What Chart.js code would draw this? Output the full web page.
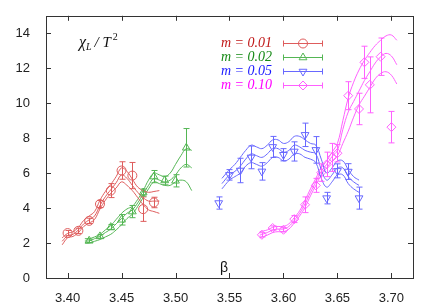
<!DOCTYPE html>
<html>
<head>
<meta charset="utf-8">
<script src="https://cdn.jsdelivr.net/npm/chart.js@4.4.0/dist/chart.umd.min.js"></script>
<style>
  html, body { margin: 0; padding: 0; background: #fff; }
</style>
</head>
<body>
<canvas id="chiChart" width="436" height="305"></canvas>
<script>
// Axes
const xTicks = [3.40, 3.45, 3.50, 3.55, 3.60, 3.65, 3.70];
const yTicks = [0, 2, 4, 6, 8, 10, 12, 14];
const labels = ['m = 0.01', 'm = 0.02', 'm = 0.05', 'm = 0.10'];

// Points m=0.01
const beta01 = [3.40, 3.41, 3.42, 3.43, 3.44, 3.45, 3.46, 3.47, 3.48];
const chi01 = [2.57, 2.70, 3.27, 4.23, 5.00, 6.15, 5.86, 3.94, 4.32];
const err01 = [0.15, 0.15, 0.15, 0.2, 0.4, 0.5, 0.75, 0.7, 0.3];

// Points m=0.02
const beta02 = [3.42, 3.43, 3.44, 3.45, 3.46, 3.47, 3.48, 3.49, 3.50, 3.51];
const chi02 = [2.13, 2.38, 2.91, 3.33, 3.80, 4.89, 5.80, 5.58, 5.56, 7.45];
const err02 = [0.1, 0.1, 0.15, 0.3, 0.35, 0.2, 0.35, 0.25, 0.35, 1.1];

// Points m=0.05
const beta05 = [3.54, 3.55, 3.56, 3.57, 3.58, 3.59, 3.60, 3.61, 3.62, 3.63, 3.64, 3.65, 3.66, 3.67];
const chi05 = [4.29, 5.90, 6.15, 6.90, 6.10, 7.50, 7.05, 7.24, 8.19, 7.33, 4.57, 6.13, 6.09, 4.57];
const err05 = [0.35, 0.3, 0.7, 0.65, 0.5, 0.6, 0.35, 0.55, 0.67, 0.76, 0.33, 0.4, 0.45, 0.63];

// Points m=0.10
const beta10 = [3.58, 3.59, 3.60, 3.61, 3.62, 3.63, 3.635, 3.64, 3.645, 3.65, 3.66, 3.67, 3.675, 3.68, 3.69, 3.70];
const chi10 = [2.47, 2.86, 2.76, 3.37, 4.19, 5.30, 6.03, 6.50, 6.90, 7.14, 10.43, 9.67, 12.34, 11.05, 12.66, 8.63];
const err10 = [0.12, 0.12, 0.12, 0.2, 0.45, 0.4, 0.5, 0.7, 0.8, 0.5, 0.8, 0.9, 0.92, 1.6, 1.07, 0.9];

// Courbes (haut / centre / bas) m=0.01
const curveBeta01 = [3.395, 3.40, 3.405, 3.41, 3.415, 3.42, 3.425, 3.43, 3.435, 3.44, 3.445, 3.45, 3.455, 3.46, 3.465, 3.47, 3.475, 3.48, 3.485];
const curveHi01 = [2.3, 2.55, 2.65, 2.9, 3.3, 3.55, 3.8, 4.45, 4.95, 5.35, 5.8, 6.3, 6.1, 5.65, 5.2, 5.0, 4.9, 4.95, 5.0];
const curveMid01 = [2.1, 2.42, 2.5, 2.75, 3.1, 3.33, 3.55, 4.15, 4.65, 5.05, 5.45, 5.9, 5.7, 5.3, 4.9, 4.6, 4.4, 4.4, 4.4];
const curveLo01 = [1.9, 2.3, 2.38, 2.6, 2.95, 3.14, 3.35, 3.95, 4.45, 4.85, 5.15, 5.5, 5.3, 5.0, 4.6, 4.2, 3.9, 3.8, 3.7];

// Courbes m=0.02
const curveBeta02 = [3.416, 3.42, 3.425, 3.43, 3.435, 3.44, 3.445, 3.45, 3.455, 3.46, 3.465, 3.47, 3.475, 3.48, 3.485, 3.49, 3.495, 3.50, 3.505, 3.51, 3.515];
const curveHi02 = [2.25, 2.25, 2.35, 2.5, 2.75, 3.0, 3.35, 3.7, 3.95, 4.1, 4.5, 5.0, 5.6, 6.0, 5.9, 5.8, 6.0, 6.5, 7.0, 7.4, 7.3];
const curveMid02 = [2.12, 2.12, 2.25, 2.4, 2.6, 2.8, 3.1, 3.4, 3.7, 3.9, 4.3, 4.8, 5.3, 5.7, 5.6, 5.5, 5.6, 5.9, 6.3, 6.5, 6.3];
const curveLo02 = [2.0, 2.0, 2.1, 2.2, 2.35, 2.5, 2.75, 3.05, 3.4, 3.65, 4.1, 4.6, 5.1, 5.5, 5.4, 5.3, 5.3, 5.5, 5.6, 5.5, 5.0];

// Courbes m=0.05
const curveBeta05 = [3.543, 3.55, 3.555, 3.56, 3.565, 3.57, 3.575, 3.58, 3.585, 3.59, 3.595, 3.60, 3.605, 3.61, 3.615, 3.62, 3.625, 3.63, 3.635, 3.64, 3.645, 3.65, 3.655, 3.66, 3.665, 3.67];
const curveHi05 = [5.7, 6.2, 6.5, 6.9, 7.3, 7.6, 7.5, 7.4, 7.6, 7.9, 7.9, 7.7, 7.8, 8.1, 8.1, 7.9, 7.7, 7.6, 6.8, 6.0, 6.3, 6.7, 6.7, 6.2, 5.8, 5.6];
const curveMid05 = [5.4, 5.9, 6.1, 6.4, 6.8, 7.1, 7.0, 6.9, 7.1, 7.4, 7.4, 7.2, 7.3, 7.6, 7.5, 7.3, 7.2, 7.1, 6.2, 5.6, 5.9, 6.3, 6.3, 5.8, 5.5, 5.3];
const curveLo05 = [5.1, 5.6, 5.8, 6.0, 6.4, 6.6, 6.5, 6.4, 6.6, 6.9, 6.9, 6.7, 6.8, 7.1, 7.1, 6.9, 6.8, 6.6, 5.7, 5.2, 5.5, 5.9, 5.9, 5.4, 5.1, 4.9];

// Courbes m=0.10
const curveBeta10 = [3.578, 3.585, 3.59, 3.595, 3.60, 3.605, 3.61, 3.615, 3.62, 3.625, 3.63, 3.635, 3.64, 3.645, 3.65, 3.655, 3.66, 3.665, 3.67, 3.675, 3.68, 3.685, 3.69, 3.695, 3.70, 3.705];
const curveHi10 = [2.65, 2.75, 2.9, 2.95, 2.95, 3.1, 3.45, 3.85, 4.45, 5.1, 5.7, 6.3, 6.7, 7.2, 7.7, 9.0, 10.3, 11.2, 11.9, 12.45, 12.9, 13.3, 13.6, 13.85, 13.9, 13.6];
const curveMid10 = [2.45, 2.6, 2.75, 2.8, 2.8, 2.95, 3.3, 3.7, 4.25, 4.9, 5.5, 6.1, 6.5, 6.95, 7.3, 8.5, 9.5, 10.1, 10.7, 11.3, 11.8, 12.3, 12.65, 12.85, 12.7, 12.2];
const curveLo10 = [2.3, 2.45, 2.6, 2.65, 2.65, 2.8, 3.15, 3.55, 4.05, 4.7, 5.3, 5.9, 6.3, 6.7, 7.0, 7.7, 8.4, 9.2, 9.9, 10.4, 10.9, 11.4, 11.7, 11.8, 11.6, 11.1];

const lineColors = ['rgb(222,92,92)', 'rgb(84,182,84)', 'rgb(104,104,255)', 'rgb(255,96,255)'];
const textColors = ['#c01818', '#168a16', '#1a1aff', '#ff00ff'];
const markers = [
    {style: 'circle', rot: 0, r: 4.5},
    {style: 'triangle', rot: 0, r: 4.5},
    {style: 'triangle', rot: 180, r: 4.5},
    {style: 'rectRot', rot: 0, r: 4.5}
];

const makeXY = (xs, ys) => xs.map((x, i) => ({x: x, y: ys[i]}));

const curveSet = (xs, ys, color) => ({
    data: makeXY(xs, ys),
    borderColor: color,
    borderWidth: 1,
    pointRadius: 0,
    tension: 0.4,
    fill: false
});

const pointSet = (xs, ys, errs, i) => ({
    data: makeXY(xs, ys),
    errors: errs,
    showLine: false,
    borderColor: lineColors[i],
    backgroundColor: 'rgba(0,0,0,0)',
    pointStyle: markers[i].style,
    pointRotation: markers[i].rot,
    pointRadius: markers[i].r,
    pointBorderWidth: 1
});

const datasets = [
    curveSet(curveBeta01, curveHi01, lineColors[0]),
    curveSet(curveBeta01, curveMid01, lineColors[0]),
    curveSet(curveBeta01, curveLo01, lineColors[0]),
    curveSet(curveBeta02, curveHi02, lineColors[1]),
    curveSet(curveBeta02, curveMid02, lineColors[1]),
    curveSet(curveBeta02, curveLo02, lineColors[1]),
    curveSet(curveBeta05, curveHi05, lineColors[2]),
    curveSet(curveBeta05, curveMid05, lineColors[2]),
    curveSet(curveBeta05, curveLo05, lineColors[2]),
    curveSet(curveBeta10, curveHi10, lineColors[3]),
    curveSet(curveBeta10, curveMid10, lineColors[3]),
    curveSet(curveBeta10, curveLo10, lineColors[3]),
    pointSet(beta01, chi01, err01, 0),
    pointSet(beta02, chi02, err02, 1),
    pointSet(beta05, chi05, err05, 2),
    pointSet(beta10, chi10, err10, 3)
];

// Barres d'erreur
const errorBars = {
    id: 'errorBars',
    afterDatasetsDraw(chart) {
        const ctx = chart.ctx;
        const xs = chart.scales.x, ys = chart.scales.y;
        ctx.save();
        ctx.lineWidth = 1;
        chart.data.datasets.forEach(ds => {
            if (!ds.errors) return;
            ctx.strokeStyle = ds.borderColor;
            ds.data.forEach((p, i) => {
                const px = Math.round(xs.getPixelForValue(p.x)) + 0.5;
                const top = ys.getPixelForValue(p.y + ds.errors[i]);
                const bot = ys.getPixelForValue(p.y - ds.errors[i]);
                ctx.beginPath();
                ctx.moveTo(px, top); ctx.lineTo(px, bot);
                ctx.moveTo(px - 3, top); ctx.lineTo(px + 3, top);
                ctx.moveTo(px - 3, bot); ctx.lineTo(px + 3, bot);
                ctx.stroke();
            });
        });
        ctx.restore();
    }
};

// Cadre, ticks internes, titres et légende
const frame = {
    id: 'frame',
    afterDraw(chart) {
        const ctx = chart.ctx;
        const a = chart.chartArea;
        const xs = chart.scales.x, ys = chart.scales.y;
        ctx.save();
        ctx.strokeStyle = '#333';
        ctx.lineWidth = 1;
        ctx.strokeRect(Math.round(a.left) + 0.5, Math.round(a.top) + 0.5, Math.round(a.right - a.left), Math.round(a.bottom - a.top));
        ctx.beginPath();
        xTicks.forEach(v => {
            const px = Math.round(xs.getPixelForValue(v)) + 0.5;
            ctx.moveTo(px, a.bottom); ctx.lineTo(px, a.bottom - 5);
            ctx.moveTo(px, a.top); ctx.lineTo(px, a.top + 5);
        });
        yTicks.forEach(v => {
            const py = Math.round(ys.getPixelForValue(v)) + 0.5;
            ctx.moveTo(a.left, py); ctx.lineTo(a.left + 5, py);
            ctx.moveTo(a.right, py); ctx.lineTo(a.right - 5, py);
        });
        ctx.stroke();

        // titre axe y
        ctx.fillStyle = '#111';
        ctx.textBaseline = 'alphabetic';
        ctx.textAlign = 'left';
        let x = a.left + 33;
        const base = a.top + 31;
        ctx.font = 'italic 16px "Liberation Serif"';
        ctx.fillText('χ', x, base);
        x += ctx.measureText('χ').width;
        ctx.font = 'italic 10px "Liberation Serif"';
        ctx.fillText('L', x, base + 3);
        x += ctx.measureText('L').width + 3;
        ctx.font = 'italic 15px "Liberation Serif"';
        ctx.fillText('/ T', x, base);
        x += ctx.measureText('/ T').width + 2;
        ctx.font = '10px "Liberation Serif"';
        ctx.fillText('2', x, base - 7);

        // titre axe x
        ctx.font = '14px "Liberation Sans"';
        ctx.textAlign = 'center';
        ctx.textBaseline = 'middle';
        ctx.fillText('β', 224, 268);

        // légende
        labels.forEach((txt, i) => {
            const y = 43 + i * 14;
            ctx.font = 'italic 14px "Liberation Serif"';
            ctx.textAlign = 'right';
            ctx.fillStyle = textColors[i];
            ctx.fillText(txt, 272, y);
            ctx.strokeStyle = lineColors[i];
            ctx.beginPath();
            ctx.moveTo(283, y + 0.5); ctx.lineTo(323, y + 0.5);
            ctx.moveTo(283.5, y - 2.5); ctx.lineTo(283.5, y + 3.5);
            ctx.moveTo(322.5, y - 2.5); ctx.lineTo(322.5, y + 3.5);
            ctx.stroke();
            ctx.fillStyle = 'rgba(0,0,0,0)';
            ctx.lineWidth = 1;
            Chart.helpers.drawPoint(ctx, {pointStyle: markers[i].style, rotation: markers[i].rot, radius: markers[i].r, borderWidth: 1}, 303, y + 0.5);
        });
        ctx.restore();
    }
};

const ctx = document.getElementById('chiChart');
new Chart(ctx, {
    type: 'line',
    data: {datasets: datasets},
    options: {
        responsive: false,
        animation: false,
        layout: {padding: {top: 15, right: 23, left: 0, bottom: 0}},
        scales: {
            x: {
                type: 'linear',
                min: 3.38,
                max: 3.72,
                afterBuildTicks: s => { s.ticks = xTicks.map(v => ({value: v})); },
                afterFit: s => { s.height = 27; },
                grid: {display: false},
                border: {display: false},
                ticks: {
                    callback: v => v.toFixed(2),
                    font: {family: 'Liberation Sans', size: 13},
                    color: '#222',
                    padding: 5,
                    maxRotation: 0,
                    autoSkip: false
                }
            },
            y: {
                min: 0,
                max: 15,
                afterBuildTicks: s => { s.ticks = yTicks.map(v => ({value: v})); },
                afterFit: s => { s.width = 46; },
                grid: {display: false},
                border: {display: false},
                ticks: {
                    font: {family: 'Liberation Sans', size: 13},
                    color: '#222',
                    padding: 8
                }
            }
        },
        plugins: {
            legend: {display: false},
            tooltip: {enabled: false}
        }
    },
    plugins: [errorBars, frame]
});
</script>
</body>
</html>
